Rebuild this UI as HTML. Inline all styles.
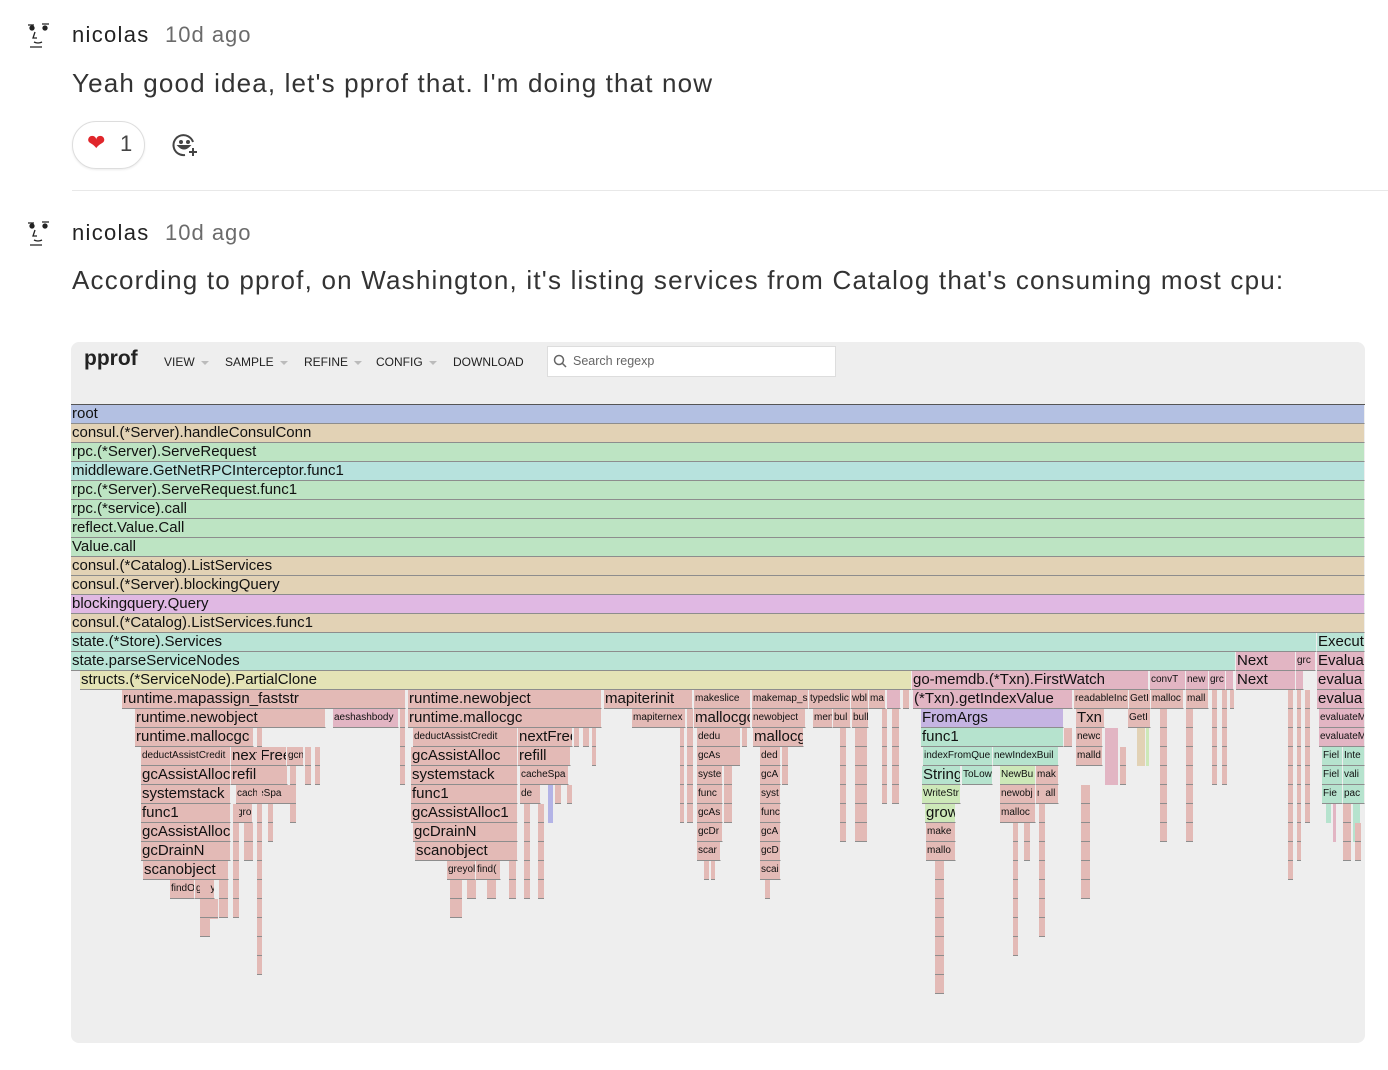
<!DOCTYPE html>
<html><head><meta charset="utf-8"><style>
*{margin:0;padding:0;box-sizing:border-box}
body{width:1388px;height:1070px;background:#fff;font-family:"Liberation Sans",sans-serif;position:relative;overflow:hidden;color:#222}
.a{position:absolute;white-space:nowrap}
.name{font-size:22px;color:#222;letter-spacing:1.3px}
.ago{font-size:22px;color:#6b6b6b;letter-spacing:1px}
.msg{font-size:26px;color:#333;letter-spacing:1.15px}
#chart{position:absolute;left:71px;top:342px;width:1294px;height:701px;background:#eee;border-radius:8px;overflow:hidden}
.f{position:absolute;height:19px;border-bottom:1px solid #8d8d8d;border-right:1px solid #eee;font-size:15px;line-height:18px;padding-left:1px;overflow:hidden;white-space:nowrap;color:#111;background:#e3bab6}
.s{font-size:10px}
.pk{background:#e2b5c3}
.t{position:absolute;background:repeating-linear-gradient(to bottom,#e3bab6 0 18px,#8d8d8d 18px 19px)}
.menu{position:absolute;top:13px;font-size:12px;color:#222}
.menu i{display:inline-block;width:0;height:0;border-left:4px solid transparent;border-right:4px solid transparent;border-top:4px solid #bbb;margin-left:6px;vertical-align:middle}
</style></head><body>

<svg class="a" style="left:24px;top:20px" width="30" height="30" viewBox="0 0 30 30"><g stroke="#222" fill="none" stroke-width="1.3"><path d="M4 5h6M18 4h7"/><circle cx="8" cy="8" r="2" fill="#222"/><circle cx="21" cy="8" r="2" fill="#222"/><path d="M11 12l-2 6h4M10 22q4 2 8 0M6 27h12"/></g></svg>
<div class="a name" style="left:72px;top:22px">nicolas</div>
<div class="a ago" style="left:165px;top:22px">10d ago</div>
<div class="a msg" style="left:72px;top:68px">Yeah good idea, let's pprof that. I'm doing that now</div>
<div class="a" style="left:72px;top:121px;width:73px;height:48px;border:1px solid #ddd;border-radius:24px;box-shadow:0 1px 2px rgba(0,0,0,.08)"></div>
<div class="a" style="left:87px;top:130px;font-size:22px;color:#e0262b">❤</div>
<div class="a" style="left:120px;top:131px;font-size:22px;color:#444">1</div>
<svg class="a" style="left:171px;top:131px" width="28" height="28" viewBox="0 0 28 28"><g stroke="#444" stroke-width="2" fill="none"><path d="M22 11A10 10 0 1 0 14 24"/><circle cx="10" cy="11" r="1" fill="#444"/><circle cx="17" cy="11" r="1" fill="#444"/><path d="M8 15q5 5 10 0z" fill="#444"/><path d="M22 17v8M18 21h8"/></g></svg>
<div class="a" style="left:72px;top:190px;width:1316px;height:1px;background:#e8e8e8"></div>

<svg class="a" style="left:24px;top:218px" width="30" height="30" viewBox="0 0 30 30"><g stroke="#222" fill="none" stroke-width="1.3"><path d="M4 5h6M18 4h7"/><circle cx="8" cy="8" r="2" fill="#222"/><circle cx="21" cy="8" r="2" fill="#222"/><path d="M11 12l-2 6h4M10 22q4 2 8 0M6 27h12"/></g></svg>
<div class="a name" style="left:72px;top:220px">nicolas</div>
<div class="a ago" style="left:165px;top:220px">10d ago</div>
<div class="a msg" style="left:72px;top:265px;letter-spacing:1.2px">According to pprof, on Washington, it's listing services from Catalog that's consuming most cpu:</div>

<div id="chart">
<div class="a" style="left:13px;top:5px;font-size:21px;font-weight:bold;color:#222">pprof</div>
<div class="menu" style="left:93px">VIEW<i></i></div>
<div class="menu" style="left:154px">SAMPLE<i></i></div>
<div class="menu" style="left:233px">REFINE<i></i></div>
<div class="menu" style="left:305px">CONFIG<i></i></div>
<div class="menu" style="left:382px">DOWNLOAD</div>
<div class="a" style="left:476px;top:4px;width:289px;height:31px;background:#fff;border:1px solid #ddd"></div>
<svg class="a" style="left:482px;top:12px" width="14" height="14"><circle cx="6" cy="6" r="4.5" stroke="#666" stroke-width="1.5" fill="none"/><path d="M9.5 9.5L13 13" stroke="#666" stroke-width="1.5"/></svg>
<div class="a" style="left:502px;top:12px;font-size:12.5px;color:#666">Search regexp</div>
<div class="a" style="left:0;top:62px;width:1294px;height:1px;background:#555"></div>
</div>

<div id="fl" style="position:absolute;left:0;top:0">
<div class="f" style="left:71px;top:405px;width:1294px;background:#b3c0e2">root</div>
<div class="f" style="left:71px;top:424px;width:1294px;background:#e2d2b5">consul.(*Server).handleConsulConn</div>
<div class="f" style="left:71px;top:443px;width:1294px;background:#bde4c3">rpc.(*Server).ServeRequest</div>
<div class="f" style="left:71px;top:462px;width:1294px;background:#b7e2dd">middleware.GetNetRPCInterceptor.func1</div>
<div class="f" style="left:71px;top:481px;width:1294px;background:#bde4c3">rpc.(*Server).ServeRequest.func1</div>
<div class="f" style="left:71px;top:500px;width:1294px;background:#bde4c3">rpc.(*service).call</div>
<div class="f" style="left:71px;top:519px;width:1294px;background:#bde4c3">reflect.Value.Call</div>
<div class="f" style="left:71px;top:538px;width:1294px;background:#bde4c3">Value.call</div>
<div class="f" style="left:71px;top:557px;width:1294px;background:#e2d2b5">consul.(*Catalog).ListServices</div>
<div class="f" style="left:71px;top:576px;width:1294px;background:#e2d2b5">consul.(*Server).blockingQuery</div>
<div class="f" style="left:71px;top:595px;width:1294px;background:#e0b8e3">blockingquery.Query</div>
<div class="f" style="left:71px;top:614px;width:1294px;background:#e2d2b5">consul.(*Catalog).ListServices.func1</div>
<div class="f" style="left:71px;top:633px;width:1246px;background:#b9e4d6">state.(*Store).Services</div>
<div class="f" style="left:1317px;top:633px;width:48px;background:#b9e4d6">Execut</div>
<div class="f" style="left:71px;top:652px;width:1165px;background:#b9e4d6">state.parseServiceNodes</div>
<div class="f pk" style="left:1236px;top:652px;width:60px">Next</div>
<div class="f pk s" style="left:1296px;top:652px;width:20px">grc</div>
<div class="f pk" style="left:1317px;top:652px;width:48px">Evalua</div>

<div class="f" style="left:80px;top:671px;width:832px;background:#e4e3b6">structs.(*ServiceNode).PartialClone</div>
<div class="f pk" style="left:912px;top:671px;width:237px">go-memdb.(*Txn).FirstWatch</div>
<div class="f pk s" style="left:1150px;top:671px;width:36px">convT</div>
<div class="f pk s" style="left:1186px;top:671px;width:23px">new</div>
<div class="f pk s" style="left:1209px;top:671px;width:17px">grc</div>
<div class="f pk" style="left:1226px;top:671px;width:8px"></div>
<div class="f pk" style="left:1236px;top:671px;width:60px">Next</div>
<div class="f pk" style="left:1296px;top:671px;width:8px"></div>
<div class="f pk" style="left:1317px;top:671px;width:48px">evalua</div>

<div class="f" style="left:122px;top:690px;width:284px">runtime.mapassign_faststr</div>
<div class="f" style="left:408px;top:690px;width:194px">runtime.newobject</div>
<div class="f" style="left:604px;top:690px;width:89px">mapiterinit</div>
<div class="f s" style="left:694px;top:690px;width:57px">makeslice</div>
<div class="f s" style="left:752px;top:690px;width:57px">makemap_s</div>
<div class="f s" style="left:809px;top:690px;width:42px">typedslic</div>
<div class="f s" style="left:851px;top:690px;width:18px">wbl</div>
<div class="f s" style="left:869px;top:690px;width:17px">ma</div>
<div class="f pk" style="left:887px;top:690px;width:14px"></div>
<div class="f pk" style="left:913px;top:690px;width:160px">(*Txn).getIndexValue</div>
<div class="f s" style="left:1074px;top:690px;width:55px">readableInc</div>
<div class="f s" style="left:1129px;top:690px;width:22px">GetI</div>
<div class="f s" style="left:1151px;top:690px;width:33px">malloc</div>
<div class="f s" style="left:1186px;top:690px;width:23px">mall</div>
<div class="f pk" style="left:1317px;top:690px;width:48px">evalua</div>

<div class="f" style="left:135px;top:709px;width:191px">runtime.newobject</div>
<div class="f pk s" style="left:333px;top:709px;width:66px">aeshashbody</div>
<div class="f" style="left:408px;top:709px;width:194px">runtime.mallocgc</div>
<div class="f s" style="left:632px;top:709px;width:54px">mapiternex</div>
<div class="f" style="left:694px;top:709px;width:57px">mallocgc</div>
<div class="f s" style="left:752px;top:709px;width:54px">newobject</div>
<div class="f s" style="left:813px;top:709px;width:20px">men</div>
<div class="f s" style="left:833px;top:709px;width:18px">bul</div>
<div class="f s" style="left:852px;top:709px;width:17px">bull</div>
<div class="f" style="left:921px;top:709px;width:143px;background:#c5b4e2">FromArgs</div>
<div class="f" style="left:1076px;top:709px;width:29px">Txn</div>
<div class="f s" style="left:1128px;top:709px;width:23px">GetI</div>
<div class="f pk s" style="left:1319px;top:709px;width:46px">evaluateM</div>

<div class="f" style="left:135px;top:728px;width:119px">runtime.mallocgc</div>
<div class="f s" style="left:413px;top:728px;width:105px">deductAssistCredit</div>
<div class="f" style="left:518px;top:728px;width:55px">nextFree</div>
<div class="f s" style="left:697px;top:728px;width:34px">dedu</div>
<div class="f" style="left:753px;top:728px;width:51px">mallocgc</div>
<div class="f" style="left:921px;top:728px;width:143px;background:#b6e3ce">func1</div>
<div class="f s" style="left:1076px;top:728px;width:27px">newc</div>
<div class="f pk s" style="left:1319px;top:728px;width:46px">evaluateM</div>

<div class="f s" style="left:141px;top:747px;width:90px">deductAssistCredit</div>
<div class="f" style="left:231px;top:747px;width:56px">nextFree</div>
<div class="f s" style="left:287px;top:747px;width:17px">gcn</div>
<div class="f" style="left:411px;top:747px;width:107px">gcAssistAlloc</div>
<div class="f" style="left:518px;top:747px;width:53px">refill</div>
<div class="f s" style="left:697px;top:747px;width:29px">gcAs</div>
<div class="f s" style="left:760px;top:747px;width:21px">ded</div>
<div class="f s" style="left:923px;top:747px;width:70px;background:#b6e3ce">indexFromQue</div>
<div class="f s" style="left:993px;top:747px;width:66px;background:#b6e3ce">newIndexBuil</div>
<div class="f s" style="left:1076px;top:747px;width:27px">malld</div>
<div class="f s" style="left:1322px;top:747px;width:21px;background:#b6e3ce">Fiel</div>
<div class="f s" style="left:1343px;top:747px;width:22px;background:#b6e3ce">Inte</div>

<div class="f" style="left:141px;top:766px;width:90px">gcAssistAlloc</div>
<div class="f" style="left:231px;top:766px;width:57px">refill</div>
<div class="f" style="left:411px;top:766px;width:107px">systemstack</div>
<div class="f s" style="left:520px;top:766px;width:49px">cacheSpa</div>
<div class="f s" style="left:697px;top:766px;width:26px">syste</div>
<div class="f s" style="left:760px;top:766px;width:21px">gcA</div>
<div class="f" style="left:922px;top:766px;width:39px;background:#b6e3ce">String</div>
<div class="f s" style="left:962px;top:766px;width:31px;background:#b6e3ce">ToLow</div>
<div class="f s" style="left:1000px;top:766px;width:36px;background:#cde8b8">NewBu</div>
<div class="f s" style="left:1036px;top:766px;width:23px">mak</div>
<div class="f s" style="left:1322px;top:766px;width:21px;background:#b6e3ce">Fiel</div>
<div class="f s" style="left:1343px;top:766px;width:22px;background:#b6e3ce">vali</div>

<div class="f" style="left:141px;top:785px;width:90px">systemstack</div>
<div class="f s" style="left:236px;top:785px;width:55px">cacheSpa</div>
<div class="f" style="left:411px;top:785px;width:107px">func1</div>
<div class="f s" style="left:520px;top:785px;width:21px">de</div>
<div class="f s" style="left:697px;top:785px;width:26px">func</div>
<div class="f s" style="left:760px;top:785px;width:21px">syst</div>
<div class="f s" style="left:922px;top:785px;width:39px;background:#cde8b8">WriteStr</div>
<div class="f s" style="left:1000px;top:785px;width:36px">newobj</div>
<div class="f s" style="left:1036px;top:785px;width:23px">mall</div>
<div class="f s" style="left:1322px;top:785px;width:21px;background:#b6e3ce">Fie</div>
<div class="f s" style="left:1343px;top:785px;width:22px;background:#b6e3ce">pac</div>

<div class="f" style="left:141px;top:804px;width:90px">func1</div>
<div class="f s" style="left:236px;top:804px;width:17px">gro</div>
<div class="f" style="left:411px;top:804px;width:107px">gcAssistAlloc1</div>
<div class="f s" style="left:697px;top:804px;width:26px">gcAs</div>
<div class="f s" style="left:760px;top:804px;width:21px">func</div>
<div class="f" style="left:925px;top:804px;width:31px;background:#cde8b8">grow</div>
<div class="f s" style="left:1000px;top:804px;width:36px">malloc</div>

<div class="f" style="left:141px;top:823px;width:90px">gcAssistAlloc1</div>
<div class="f" style="left:413px;top:823px;width:105px">gcDrainN</div>
<div class="f s" style="left:697px;top:823px;width:26px">gcDr</div>
<div class="f s" style="left:760px;top:823px;width:21px">gcA</div>
<div class="f s" style="left:926px;top:823px;width:30px">make</div>

<div class="f" style="left:141px;top:842px;width:90px">gcDrainN</div>
<div class="f" style="left:415px;top:842px;width:103px">scanobject</div>
<div class="f s" style="left:697px;top:842px;width:24px">scar</div>
<div class="f s" style="left:760px;top:842px;width:21px">gcD</div>
<div class="f s" style="left:926px;top:842px;width:30px">mallo</div>

<div class="f" style="left:143px;top:861px;width:86px">scanobject</div>
<div class="f s" style="left:447px;top:861px;width:29px">greyol</div>
<div class="f s" style="left:476px;top:861px;width:25px">find(</div>
<div class="f s" style="left:760px;top:861px;width:21px">scai</div>

<div class="f s" style="left:170px;top:880px;width:25px">findO</div>
<div class="f s" style="left:195px;top:880px;width:20px">grey</div>

<div class="t" style="left:257px;top:728px;width:5px;height:247px"></div>
<div class="t" style="left:200px;top:880px;width:10px;height:57px"></div>
<div class="t" style="left:210px;top:899px;width:8px;height:20px"></div>
<div class="t" style="left:219px;top:880px;width:9px;height:38px"></div>
<div class="t" style="left:233px;top:804px;width:6px;height:114px"></div>
<div class="t" style="left:244px;top:823px;width:9px;height:38px"></div>
<div class="t" style="left:268px;top:804px;width:5px;height:38px"></div>
<div class="t" style="left:290px;top:766px;width:6px;height:57px"></div>
<div class="t" style="left:305px;top:747px;width:6px;height:38px"></div>
<div class="t" style="left:315px;top:747px;width:5px;height:38px"></div>
<div class="t" style="left:400px;top:709px;width:5px;height:76px"></div>
<div class="t" style="left:450px;top:880px;width:12px;height:38px"></div>
<div class="t" style="left:467px;top:880px;width:9px;height:19px"></div>
<div class="t" style="left:487px;top:880px;width:9px;height:19px"></div>
<div class="t" style="left:509px;top:861px;width:7px;height:38px"></div>
<div class="t" style="left:524px;top:804px;width:6px;height:95px"></div>
<div class="t" style="left:538px;top:804px;width:6px;height:95px"></div>
<div class="t" style="left:548px;top:785px;width:5px;height:38px;background:#b3b3e6"></div>
<div class="t" style="left:555px;top:785px;width:6px;height:19px"></div>
<div class="t" style="left:567px;top:785px;width:5px;height:19px"></div>
<div class="t" style="left:574px;top:728px;width:5px;height:19px"></div>
<div class="t" style="left:583px;top:728px;width:6px;height:19px"></div>
<div class="t" style="left:592px;top:728px;width:4px;height:38px"></div>
<div class="t" style="left:680px;top:728px;width:4px;height:95px"></div>
<div class="t" style="left:687px;top:709px;width:6px;height:114px"></div>
<div class="t" style="left:704px;top:861px;width:5px;height:19px"></div>
<div class="t" style="left:711px;top:861px;width:4px;height:19px"></div>
<div class="t" style="left:724px;top:728px;width:8px;height:95px"></div>
<div class="t" style="left:732px;top:728px;width:8px;height:38px"></div>
<div class="t" style="left:742px;top:728px;width:5px;height:19px"></div>
<div class="t" style="left:765px;top:880px;width:5px;height:19px"></div>
<div class="t" style="left:782px;top:747px;width:6px;height:38px"></div>
<div class="t" style="left:840px;top:728px;width:6px;height:114px"></div>
<div class="t" style="left:855px;top:728px;width:12px;height:114px"></div>
<div class="t" style="left:882px;top:709px;width:5px;height:95px"></div>
<div class="t" style="left:892px;top:709px;width:7px;height:95px"></div>
<div class="t" style="left:903px;top:690px;width:6px;height:19px"></div>
<div class="t" style="left:935px;top:861px;width:9px;height:133px"></div>
<div class="t" style="left:1013px;top:823px;width:5px;height:133px"></div>
<div class="t" style="left:1024px;top:823px;width:6px;height:38px"></div>
<div class="t" style="left:1039px;top:785px;width:6px;height:152px"></div>
<div class="t" style="left:1064px;top:728px;width:8px;height:19px"></div>
<div class="t" style="left:1081px;top:785px;width:9px;height:114px"></div>
<div class="t" style="left:1105px;top:728px;width:13px;height:57px;background:#e2b5c3"></div>
<div class="t" style="left:1120px;top:747px;width:6px;height:38px"></div>
<div class="t" style="left:1137px;top:728px;width:8px;height:38px;background:#e2d2b5"></div>
<div class="t" style="left:1146px;top:728px;width:3px;height:38px;background:#cde8b8"></div>
<div class="t" style="left:1160px;top:709px;width:7px;height:133px"></div>
<div class="t" style="left:1186px;top:709px;width:7px;height:133px"></div>
<div class="t" style="left:1212px;top:690px;width:5px;height:95px"></div>
<div class="t" style="left:1222px;top:690px;width:5px;height:95px"></div>
<div class="t" style="left:1230px;top:690px;width:4px;height:19px"></div>
<div class="t" style="left:1288px;top:690px;width:5px;height:190px"></div>
<div class="t" style="left:1297px;top:690px;width:4px;height:171px"></div>
<div class="t" style="left:1305px;top:690px;width:5px;height:133px"></div>
<div class="t" style="left:1326px;top:804px;width:5px;height:19px;background:#b6e3ce"></div>
<div class="t" style="left:1333px;top:804px;width:3px;height:38px;background:#e2b5c3"></div>
<div class="t" style="left:1343px;top:804px;width:8px;height:57px"></div>
<div class="t" style="left:1353px;top:804px;width:7px;height:38px;background:#b6e3ce"></div>
<div class="t" style="left:1355px;top:823px;width:6px;height:38px"></div>
</div>
</body></html>
